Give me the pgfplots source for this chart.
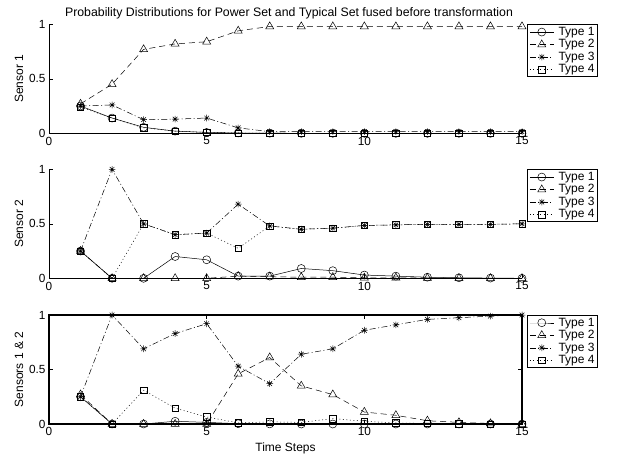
\documentclass[border=0pt]{standalone}
\usepackage{fontspec}
\setmainfont{Liberation Sans}
\usepackage{pgfplots}
\pgfplotsset{compat=1.18}
\pgfdeclareplotmark{star8}{%
  \pgfpathmoveto{\pgfqpoint{0pt}{\pgfplotmarksize}}\pgfpathlineto{\pgfqpoint{0pt}{-\pgfplotmarksize}}%
  \pgfpathmoveto{\pgfqpoint{\pgfplotmarksize}{0pt}}\pgfpathlineto{\pgfqpoint{-\pgfplotmarksize}{0pt}}%
  \pgfpathmoveto{\pgfqpoint{0.707\pgfplotmarksize}{0.707\pgfplotmarksize}}\pgfpathlineto{\pgfqpoint{-0.707\pgfplotmarksize}{-0.707\pgfplotmarksize}}%
  \pgfpathmoveto{\pgfqpoint{-0.707\pgfplotmarksize}{0.707\pgfplotmarksize}}\pgfpathlineto{\pgfqpoint{0.707\pgfplotmarksize}{-0.707\pgfplotmarksize}}%
  \pgfusepathqstroke}
\pgfplotsset{
 common/.style={scale only axis, width=473pt, height=109pt,
  xmin=0, xmax=15, ymin=0, ymax=1,
  xtick={0,5,10,15}, ytick={0,0.5,1}, yticklabels={0,0.5,1},
  tick align=inside, major tick length=4pt,
  tick style={black, line width=0.6pt}, clip=false,
  font=\fontsize{12}{14}\selectfont,
  ticklabel style={font=\fontsize{11.8}{14}\selectfont},
  axis line style={line width=0.7pt},
  /pgf/number format/assume math mode=true,
  every axis y label/.style={at={(axis description cs:-0.0634,0.5)}, rotate=90, anchor=center},
  every axis x label/.style={at={(axis description cs:0.5,-0.22)}, anchor=center},
  legend cell align=left,
  legend style={draw=black, line width=1pt, font=\fontsize{12}{14}\selectfont, anchor=north west,
    at={(1.0106,1.0)}, inner xsep=2pt, inner ysep=1pt, row sep=0pt,
    nodes={inner sep=0.5pt, text height=9pt, text depth=2.5pt},
    /tikz/every odd column/.append style={column sep=4pt}},
  legend image code/.code={\draw[mark repeat=2,mark phase=2] plot coordinates {(0pt,0pt) (12pt,0pt) (24pt,0pt)};},
  every axis plot/.append style={black, line width=0.5pt},
 },
 t1/.style={solid, mark=o, mark size=4pt},
 t2/.style={dash pattern=on 6pt off 4pt, mark=triangle, mark size=4.6pt, mark options={solid}},
 t3/.style={dash pattern=on 6pt off 2.5pt on 1pt off 2.5pt, mark=star8, mark size=3.3pt, mark options={solid}},
 t4/.style={dash pattern=on 1pt off 2.5pt, mark=square, mark size=3.2pt, mark options={solid}},
}
\begin{document}
\begin{tikzpicture}
\path[use as bounding box] (0,0) rectangle (618pt,459pt);
\node[font=\fontsize{12.3}{14}\selectfont] at (289pt,446pt) {Probability Distributions for Power Set and Typical Set fused before transformation};
% Axis 1
\begin{axis}[common, at={(49pt,325.7pt)}, anchor=south west,
  axis x line*=bottom, axis y line*=left, ylabel={Sensor 1}]
\addplot[t1] coordinates {(1,0.25)(2,0.14)(3,0.055)(4,0.02)(5,0.008)(6,0.003)(7,0.001)(8,0)(9,0)(10,0)(11,0)(12,0)(13,0)(14,0)(15,0)};
\addplot[t2] coordinates {(1,0.27)(2,0.45)(3,0.77)(4,0.82)(5,0.84)(6,0.94)(7,0.98)(8,0.98)(9,0.98)(10,0.98)(11,0.98)(12,0.98)(13,0.98)(14,0.98)(15,0.98)};
\addplot[t3] coordinates {(1,0.25)(2,0.26)(3,0.125)(4,0.13)(5,0.14)(6,0.05)(7,0.015)(8,0.015)(9,0.015)(10,0.015)(11,0.015)(12,0.015)(13,0.015)(14,0.015)(15,0.015)};
\addplot[t4] coordinates {(1,0.24)(2,0.14)(3,0.05)(4,0.02)(5,0.008)(6,0.003)(7,0.001)(8,0)(9,0)(10,0)(11,0)(12,0)(13,0)(14,0)(15,0)};
\legend{Type 1,Type 2,Type 3,Type 4}
\end{axis}
% Axis 2
\begin{axis}[common, at={(49pt,180.7pt)}, anchor=south west,
  axis x line*=bottom, axis y line*=left, ylabel={Sensor 2}]
\addplot[t1] coordinates {(1,0.25)(2,0)(3,0)(4,0.2)(5,0.17)(6,0.02)(7,0.02)(8,0.09)(9,0.07)(10,0.03)(11,0.02)(12,0.01)(13,0.005)(14,0.002)(15,0)};
\addplot[t2] coordinates {(1,0.25)(2,0)(3,0)(4,0)(5,0)(6,0.02)(7,0.015)(8,0.01)(9,0.01)(10,0.005)(11,0.005)(12,0.003)(13,0)(14,0)(15,0)};
\addplot[t3] coordinates {(1,0.25)(2,1.0)(3,0.5)(4,0.40)(5,0.415)(6,0.68)(7,0.48)(8,0.45)(9,0.46)(10,0.485)(11,0.49)(12,0.495)(13,0.495)(14,0.495)(15,0.50)};
\addplot[t4] coordinates {(1,0.25)(2,0)(3,0.5)(4,0.40)(5,0.415)(6,0.275)(7,0.48)(8,0.45)(9,0.46)(10,0.485)(11,0.49)(12,0.495)(13,0.495)(14,0.495)(15,0.50)};
\legend{Type 1,Type 2,Type 3,Type 4}
\end{axis}
% Axis 3
\begin{axis}[common, at={(49pt,35pt)}, anchor=south west,
  axis line style={line width=1.2pt},
  ylabel={Sensors 1 \& 2}, xlabel={Time Steps},
  xticklabel pos=lower, yticklabel pos=left]
\addplot[t1] coordinates {(1,0.25)(2,0)(3,0)(4,0.025)(5,0.015)(6,0.003)(7,0.001)(8,0)(9,0)(10,0)(11,0)(12,0)(13,0)(14,0)(15,0)};
\addplot[t2] coordinates {(1,0.27)(2,0)(3,0)(4,0)(5,0)(6,0.46)(7,0.61)(8,0.35)(9,0.27)(10,0.11)(11,0.08)(12,0.03)(13,0.015)(14,0.005)(15,0)};
\addplot[t3] coordinates {(1,0.25)(2,1.0)(3,0.69)(4,0.83)(5,0.92)(6,0.53)(7,0.37)(8,0.64)(9,0.69)(10,0.86)(11,0.91)(12,0.96)(13,0.975)(14,0.99)(15,1.0)};
\addplot[t4] coordinates {(1,0.25)(2,0)(3,0.31)(4,0.145)(5,0.065)(6,0.01)(7,0.02)(8,0.015)(9,0.05)(10,0.025)(11,0.01)(12,0.005)(13,0.002)(14,0)(15,0)};
\legend{Type 1,Type 2,Type 3,Type 4}
\end{axis}
\end{tikzpicture}
\end{document}
